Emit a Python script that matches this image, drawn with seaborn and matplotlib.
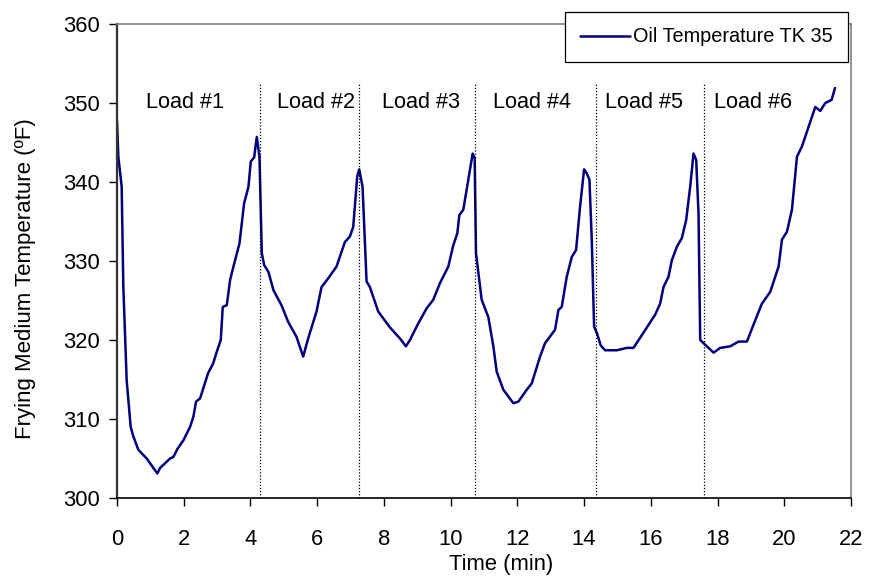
import matplotlib
matplotlib.use("Agg")
import matplotlib.pyplot as plt
import seaborn as sns
import pandas as pd

time_min = [0.0, 0.04, 0.14, 0.19, 0.29, 0.41, 0.49, 0.64, 0.89, 1.21, 1.29, 1.59, 1.69, 1.81, 1.99,
            2.19, 2.29, 2.37, 2.49, 2.73, 2.88, 2.99, 3.11, 3.17, 3.29, 3.39, 3.49, 3.67, 3.81, 3.94,
            4.01, 4.11, 4.19, 4.27, 4.31, 4.34, 4.41, 4.54, 4.69, 4.93, 5.13, 5.38, 5.58, 5.73, 5.98,
            6.13, 6.33, 6.58, 6.83, 6.98, 7.08, 7.20, 7.26, 7.36, 7.48, 7.58, 7.83, 8.18, 8.48, 8.66,
            8.78, 9.03, 9.28, 9.48, 9.68, 9.93, 10.08, 10.20, 10.26, 10.38, 10.53, 10.66, 10.72, 10.76,
            10.93, 11.13, 11.28, 11.38, 11.58, 11.88, 12.03, 12.28, 12.43, 12.68, 12.83, 13.13, 13.23,
            13.33, 13.48, 13.63, 13.76, 13.88, 14.00, 14.08, 14.16, 14.23, 14.30, 14.39, 14.50, 14.63,
            14.98, 15.28, 15.48, 15.73, 15.93, 16.13, 16.28, 16.38, 16.53, 16.63, 16.78, 16.93, 17.06,
            17.18, 17.28, 17.36, 17.43, 17.48, 17.63, 17.88, 18.08, 18.38, 18.63, 18.88, 19.13, 19.33,
            19.58, 19.83, 19.93, 20.08, 20.23, 20.38, 20.53, 20.73, 20.93, 21.08, 21.23, 21.42, 21.52]

oil_temp = [347.7, 343.2, 339.4, 326.7, 314.9, 309.0, 307.8, 306.1, 305.0, 303.1, 303.8, 305.0, 305.2,
            306.2, 307.3, 309.0, 310.3, 312.2, 312.6, 315.8, 317.0, 318.5, 320.0, 324.2, 324.4, 327.6,
            329.3, 332.2, 337.3, 339.4, 342.6, 343.1, 345.7, 343.2, 336.0, 331.0, 329.5, 328.6, 326.3,
            324.4, 322.3, 320.4, 317.9, 320.2, 323.6, 326.7, 327.8, 329.3, 332.4, 333.1, 334.3, 340.7,
            341.6, 339.4, 327.4, 326.7, 323.6, 321.6, 320.2, 319.2, 320.0, 322.1, 324.0, 325.1, 327.2,
            329.3, 332.0, 333.5, 335.8, 336.5, 340.3, 343.6, 343.0, 331.0, 325.1, 322.9, 319.2, 316.0,
            313.7, 312.0, 312.2, 313.7, 314.5, 317.9, 319.6, 321.3, 323.8, 324.2, 328.0, 330.5, 331.4,
            336.9, 341.6, 341.1, 340.3, 332.7, 321.7, 320.8, 319.3, 318.7, 318.7, 319.0, 319.0, 320.6,
            321.9, 323.2, 324.6, 326.7, 328.0, 330.1, 331.8, 332.9, 335.2, 339.4, 343.6, 342.8, 336.0,
            320.0, 319.4, 318.4, 319.0, 319.2, 319.8, 319.8, 322.5, 324.6, 326.1, 329.3, 332.7, 333.7,
            336.5, 343.2, 344.5, 347.0, 349.5, 349.0, 350.0, 350.4, 351.9]

load_bounds = [4.29, 7.26, 10.73, 14.36, 17.60]
load_labels = ["Load #1", "Load #2", "Load #3", "Load #4", "Load #5", "Load #6"]
load_label_x = [2.04, 5.97, 9.10, 12.45, 15.80, 19.07]
load_label_y = 350
x_ticks = [0, 2, 4, 6, 8, 10, 12, 14, 16, 18, 20, 22]
y_ticks = [300, 310, 320, 330, 340, 350, 360]

sns.set_style("ticks")
plt.rcParams['font.family'] = ['Liberation Sans', 'DejaVu Sans']
plt.rcParams['text.color'] = 'black'
plt.rcParams['axes.labelcolor'] = 'black'
plt.rcParams['xtick.color'] = 'black'
plt.rcParams['ytick.color'] = 'black'

df = pd.DataFrame({"Time (min)": time_min, "Oil Temperature TK 35": oil_temp})

fig = plt.figure(figsize=(8.7, 5.78), dpi=100)
ax = fig.add_axes([117/870, 1 - 498/578, (851 - 117)/870, (498 - 24)/578])

sns.lineplot(data=df, x="Time (min)", y="Oil Temperature TK 35", ax=ax,
             color="#000080", linewidth=1.8, label="Oil Temperature TK 35")

for b in load_bounds:
    ax.plot([b, b], [300, 352.5], color="black", linestyle=(0, (1, 1.5)), linewidth=0.9)

for lx, lab in zip(load_label_x, load_labels):
    ax.text(lx, load_label_y, lab, ha="center", va="center", fontsize=15.6)

ax.set_xlim(0, 22)
ax.set_ylim(300, 360)
ax.set_xticks(x_ticks)
ax.set_yticks(y_ticks)
ax.tick_params(axis="both", labelsize=15.8, direction="out", length=6, width=1, color="black")
ax.tick_params(axis="x", pad=16)
ax.tick_params(axis="y", pad=6)
ax.set_xlabel("Time (min)", fontsize=15.8)
ax.set_ylabel("Frying Medium Temperature (ºF)", fontsize=16)
ax.xaxis.label.set_verticalalignment("center")
ax.yaxis.label.set_verticalalignment("center")
ax.xaxis.set_label_coords(0.523, -0.141)
ax.yaxis.set_label_coords(-0.125, 0.462)

for s in ["top", "right"]:
    ax.spines[s].set_visible(True)
    ax.spines[s].set_color("#808080")
    ax.spines[s].set_linewidth(1.2)
ax.spines["left"].set_color("#333333")
ax.spines["left"].set_linewidth(1.6)
ax.spines["bottom"].set_color("black")
ax.spines["bottom"].set_linewidth(1.2)

leg = ax.legend(loc="upper right", bbox_to_anchor=(848/870, 1 - 12/578), bbox_transform=fig.transFigure,
                fontsize=14.3, frameon=True, fancybox=False, framealpha=1, edgecolor="black",
                handlelength=2.5, handletextpad=0.15, borderpad=0.78, borderaxespad=0)
leg.get_frame().set_linewidth(0.9)

fig.savefig("out.png", dpi=100)
